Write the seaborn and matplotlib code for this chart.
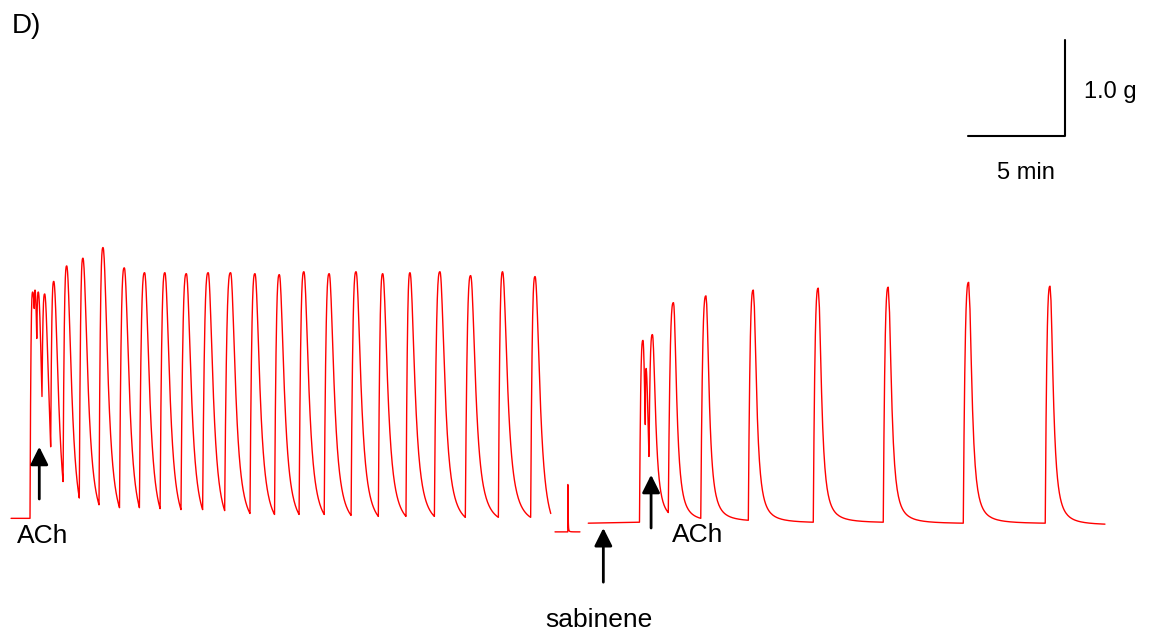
import numpy as np
import pandas as pd
import seaborn as sns
import matplotlib.pyplot as plt

# values: time in min, tension in g (0 = resting level of 1st record)

# record 1: ACh alone
rec1_start = [-0.98, 0.0]
rec1_onset = [0.0, 0.0]
rec1_peak_t = [0.14, 0.26, 0.43, 0.76, 1.23, 1.90, 2.74, 3.78, 4.88, 5.93, 6.98, 8.09, 9.22,
               10.38, 11.64, 12.90, 14.17, 15.48, 16.87, 18.25, 19.66, 21.21, 22.80, 24.45, 26.13]
rec1_peak_g = [2.34, 2.36, 2.34, 2.32, 2.45, 2.61, 2.69, 2.80, 2.59, 2.54, 2.54, 2.53, 2.54,
               2.54, 2.53, 2.52, 2.55, 2.53, 2.55, 2.53, 2.54, 2.55, 2.51, 2.55, 2.50]
rec1_trough_t = [0.22, 0.35, 0.62, 1.07, 1.71, 2.55, 3.57, 4.63, 5.66, 6.73, 7.81, 8.93, 10.07,
                 11.38, 12.65, 13.92, 15.22, 16.61, 18.02, 19.45, 20.92, 22.52, 24.23, 25.90, 26.94]
rec1_trough_g = [2.17, 1.86, 1.26, 0.74, 0.38, 0.21, 0.14, 0.11, 0.11, 0.10, 0.09, 0.09, 0.08,
                 0.05, 0.04, 0.04, 0.04, 0.03, 0.02, 0.02, 0.02, 0.01, 0.01, 0.01, 0.05]

# short piece with the artefact spike
rec2_start = [27.16, -0.14]
rec2_onset = [27.82, -0.14]
rec2_peak_t = [27.83]
rec2_peak_g = [0.35]
rec2_trough_t = [28.45]
rec2_trough_g = [-0.14]

# record 2: sabinene then ACh
rec3_start = [28.88, -0.05]
rec3_onset = [31.53, -0.04]
rec3_peak_t = [31.71, 31.87, 32.20, 33.29, 34.97, 37.42, 40.78, 44.40, 48.56, 52.77]
rec3_peak_g = [1.84, 1.55, 1.90, 2.23, 2.30, 2.36, 2.38, 2.39, 2.44, 2.40]
rec3_trough_t = [31.83, 32.02, 33.02, 34.70, 37.16, 40.52, 44.14, 48.28, 52.52, 55.61]
rec3_trough_g = [0.97, 0.64, 0.06, 0.00, -0.02, -0.04, -0.04, -0.05, -0.05, -0.06]

# arrows (x, tail, head) and labels
arrow_x = [0.48, 29.66, 32.13]
arrow_tail = [0.20, -0.66, -0.10]
arrow_head = [0.74, -0.10, 0.45]
labels = ["ACh", "sabinene", "ACh"]
label_x = [0.66, 29.44, 34.53]
label_y = [-0.26, -1.12, -0.24]

# scale bar
bar_t0 = 48.53
bar_g0 = 3.95
bar_min = 5
bar_g = 1.0


def build_trace(start, onset, peak_t, peak_g, trough_t, trough_g, width, n=30):
    # rise to each peak, then relax towards the next trough
    ts = [start[0], onset[0]]
    gs = [start[1], onset[1]]
    prev_t, prev_g = onset
    for pt, pg, tt, tg in zip(peak_t, peak_g, trough_t, trough_g):
        s = np.linspace(0, 1, n)[1:]
        ts += list(prev_t + (pt - prev_t) * s)
        gs += list(prev_g + (pg - prev_g) * (1 - (1 - s) ** 3))
        dt = np.linspace(0, tt - pt, 2 * n)[1:]
        k = 1 / (1 + (dt / width) ** 2)
        k_end = 1 / (1 + ((tt - pt) / width) ** 2)
        ts += list(pt + dt)
        gs += list(tg + (pg - tg) * (k - k_end) / (1 - k_end))
        prev_t, prev_g = tt, tg
    return ts, gs


parts = []
for name, args, w in [("r1", (rec1_start, rec1_onset, rec1_peak_t, rec1_peak_g, rec1_trough_t, rec1_trough_g), 0.29),
                      ("r2", (rec2_start, rec2_onset, rec2_peak_t, rec2_peak_g, rec2_trough_t, rec2_trough_g), 0.01),
                      ("r3", (rec3_start, rec3_onset, rec3_peak_t, rec3_peak_g, rec3_trough_t, rec3_trough_g), 0.19)]:
    t, g = build_trace(*args, width=w)
    parts.append(pd.DataFrame({"t": t, "g": g, "seg": name}))
df = pd.concat(parts, ignore_index=True)

sns.set_theme(style="white")
plt.rcParams['font.family'] = ['Liberation Sans', 'DejaVu Sans']

fig = plt.figure(figsize=(11.5, 6.34), dpi=100)
ax = fig.add_axes([0, 0, 1, 1])
sns.lineplot(data=df, x="t", y="g", units="seg", estimator=None, sort=False,
             color="red", lw=1.0, legend=False, ax=ax)

for x, y0, y1 in zip(arrow_x, arrow_tail, arrow_head):
    ax.annotate("", xy=(x, y1), xytext=(x, y0),
                arrowprops=dict(arrowstyle="-|>,head_length=0.4,head_width=0.2",
                                mutation_scale=27, lw=2.0, color="black",
                                shrinkA=0, shrinkB=0))
for txt, x, y in zip(labels, label_x, label_y):
    ax.text(x, y, txt, ha="center", va="baseline", fontsize=19, color="black")

ax.plot([bar_t0, bar_t0 + bar_min, bar_t0 + bar_min],
        [bar_g0, bar_g0, bar_g0 + bar_g], color="black", lw=1.5)
ax.text(bar_t0 + bar_min + 1.0, 4.35, "1.0 g", ha="left", va="baseline", fontsize=17, color="black")
ax.text(bar_t0 + 1.48, 3.51, "5 min", ha="left", va="baseline", fontsize=17, color="black")
ax.text(-0.93, 5.02, "D)", ha="left", va="baseline", fontsize=20, color="black")

ax.set_xlim(-1.552, 57.94)
ax.set_ylim(-1.196, 5.36)
ax.axis("off")

fig.savefig("out.png", dpi=100)
